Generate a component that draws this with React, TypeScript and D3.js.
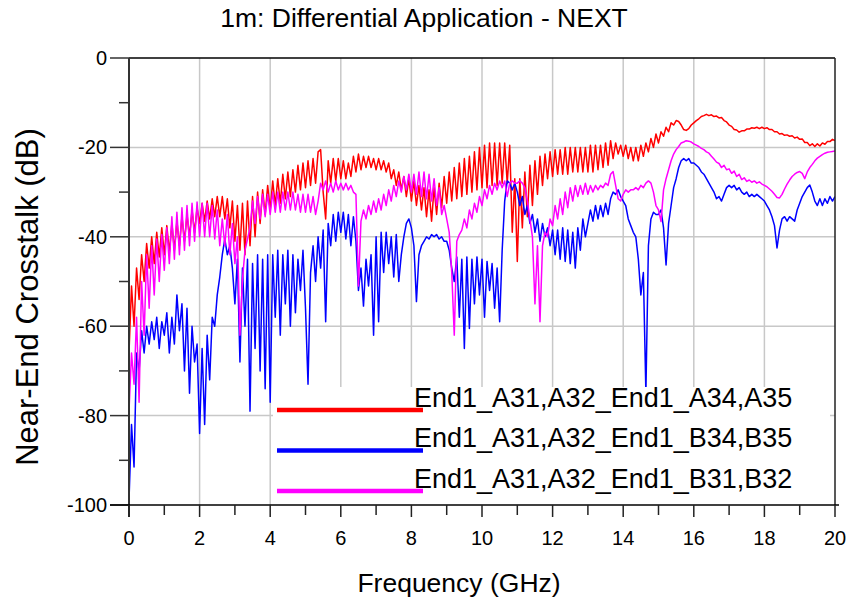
import React from 'react';
import * as d3 from 'd3';

// Frequency grid: one sample every 1/14 GHz from 0 to 20 GHz (14 samples per GHz row below)
const FREQ_STEP_GHZ = 1 / 14;

const X_TICKS = [0, 2, 4, 6, 8, 10, 12, 14, 16, 18, 20];
const X_MINOR = [1, 3, 5, 7, 9, 11, 13, 15, 17, 19];
const Y_TICKS = [0, -20, -40, -60, -80, -100];
const Y_MINOR = [-10, -30, -50, -70, -90];

const SERIES_NAMES = [
  'End1_A31,A32_End1_A34,A35',
  'End1_A31,A32_End1_B34,B35',
  'End1_A31,A32_End1_B31,B32',
];
const SERIES_COLORS = ['#ff0000', '#0000ff', '#ff00ff'];

// NEXT, End1_A31,A32 -> End1_A34,A35 (dB)
const NEXT_A34_A35 = [
  -66, -51, -60, -47, -54, -44, -50, -41.5, -47, -40, -46, -39, -44.5, -38,
  -44, -37.5, -43.5, -37, -43, -36.5, -42, -35.5, -41, -35, -40, -34, -39, -33.5,
  -37, -32.5, -36.5, -32, -36, -31.5, -35.5, -31, -35.5, -31, -36, -31.5, -38, -32,
  -41, -33, -43, -32.5, -44, -32, -42, -31, -40, -30, -37, -29.5, -35, -28.5,
  -34, -27.5, -33, -27, -32.5, -26, -31.5, -25.5, -31, -25, -30, -24, -29.5, -23.5,
  -29, -23, -28.5, -22.5, -28, -21, -20.5, -30, -36, -23, -28, -22.5, -27.5, -22.5,
  -27, -23, -27, -23.5, -26.5, -22, -25.5, -21.5, -25, -22, -24.5, -22, -24.5, -22.5,
  -25, -22.5, -25, -23, -25.5, -23.5, -27, -25, -28.5, -25.5, -29.5, -26.5, -31, -27,
  -32, -27.5, -33, -28.5, -34, -29, -35.5, -29.5, -36.5, -29, -35, -28, -33.5, -26.5,
  -32.5, -25.5, -32, -24.5, -31.5, -23.5, -31, -22.5, -30.5, -22, -30, -21, -29.5, -20,
  -29, -19.5, -29, -19, -28.5, -19, -28.5, -19, -28, -19, -28, -19.5, -39, -27,
  -45.5, -27, -38, -25.5, -35.5, -24, -33, -23, -30.5, -22, -28.5, -21.5, -27, -21,
  -26.5, -20.5, -26, -20.5, -26, -20, -26, -20, -25.5, -20, -25.5, -20, -25.5, -20,
  -25.5, -19.5, -25.5, -19.5, -25, -19.5, -24.5, -19, -24, -18.5, -22.5, -19, -21.5, -19.5,
  -22, -19.5, -22.5, -20, -23, -20, -23, -19.5, -22, -19, -21, -18, -20, -17,
  -19, -16.5, -17.5, -15.5, -16.5, -14.5, -15, -14, -14.2, -15, -16, -16.2, -15.8, -15,
  -14.5, -14, -13.6, -13.1, -12.9, -12.6, -12.9, -12.7, -13.1, -13, -13.4, -13.3, -14, -14.3,
  -15, -15.3, -16, -16.1, -16.6, -16.3, -16.3, -15.9, -15.9, -15.6, -15.7, -15.5, -15.8, -15.5,
  -15.8, -15.6, -16, -16, -16.5, -16.5, -17, -16.9, -17.3, -17.2, -17.5, -17.4, -17.9, -17.7,
  -18.2, -18.1, -18.9, -18.9, -19.6, -19.2, -19.8, -19.2, -19.7, -19, -19.3, -18.7, -18.7, -18.2,
  -18.5,
];

// NEXT, End1_A31,A32 -> End1_B34,B35 (dB)
const NEXT_B34_B35 = [
  -99, -82, -91.5, -66, -70, -61, -66, -60, -64, -59, -63, -58, -65, -59,
  -62, -57, -66, -58, -64, -53, -61, -55, -70, -56, -75, -60, -68, -64,
  -84, -65, -82, -62, -72, -58, -60, -53, -49, -44, -40.5, -44, -42, -47,
  -55, -45, -68, -47, -60, -45, -79, -46, -65, -44, -70, -45, -74, -44,
  -77, -44, -58, -43, -62, -44, -55, -43, -60, -44, -57, -45, -52, -43,
  -56, -73, -48, -42, -50, -40, -47, -38.5, -59, -37, -42, -35, -41, -34.5,
  -39, -34.5, -40.5, -35, -42, -35.5, -41, -52, -47, -55.5, -45, -51, -44, -62,
  -40, -59, -39, -48, -39, -46, -40, -49, -39.5, -50, -44, -40, -37, -36,
  -38, -42, -54.5, -44, -42, -41, -40, -40.5, -39.5, -40, -39.5, -40.5, -40, -41,
  -41, -43, -47, -50, -44.5, -58, -45, -65, -44.5, -60.5, -45, -55, -44.5, -53,
  -45, -58, -45.5, -52, -46, -56, -47, -59, -43, -32, -27.5, -28, -29.5, -28,
  -30, -33, -31, -35, -33, -37, -35, -39, -36, -41, -37, -40, -38, -42,
  -38.5, -44, -38.5, -45, -38, -45.5, -38.5, -46, -39, -47, -38, -43, -36, -40,
  -37, -34, -36.5, -33, -36, -33, -35.5, -32.5, -35, -31.5, -30, -30.5, -29.5, -31,
  -32, -33, -36, -37.5, -39, -40, -45, -53, -48, -75, -42, -36, -34.5, -35,
  -35, -34, -38, -46.3, -37, -33, -29, -27, -24.5, -23, -22.5, -23, -22.5, -23.5,
  -23.5, -24, -24.5, -25.5, -26, -27, -28, -29, -30, -31.5, -31, -32, -30.5, -29,
  -28.5, -29, -28.5, -29.5, -29, -30, -30.5, -30, -31, -30.5, -31, -30.5, -31, -31.5,
  -32, -33, -34, -35.5, -37.5, -42.5, -38.5, -36, -35.5, -36.5, -35.5, -36, -36.5, -34,
  -32.5, -31, -30, -29, -28.4, -30, -32, -33, -31.5, -33, -31.5, -32.5, -31, -32,
  -31,
];

// NEXT, End1_A31,A32 -> End1_B31,B32 (dB)
const NEXT_B31_B32 = [
  -79, -66, -73, -58, -77, -50, -62, -44, -56, -42, -53, -40.5, -50, -39.5,
  -47.5, -38, -46, -35.5, -45, -34.5, -44, -33.5, -43, -33, -42, -32.5, -41, -32.2,
  -40, -32.5, -40, -32.5, -40, -33, -40.5, -34, -42, -36, -42, -35, -44, -37,
  -46, -40, -62, -49.5, -43, -40.5, -38, -32, -37, -31, -36, -30.5, -35.5, -30.5,
  -35, -30, -34.5, -30, -34.5, -30, -34, -30, -34, -30, -34, -30.5, -34.5, -30.5,
  -34.5, -30.5, -34.5, -31, -35, -32, -28, -29.5, -27.5, -30, -28, -30, -27.5, -29.5,
  -28, -29.5, -28, -29.5, -28.5, -30, -30.5, -51, -36.5, -34, -36, -33, -35, -32,
  -34.5, -31.5, -34, -30.5, -33, -29.5, -32, -28.5, -31, -27.5, -30, -26.5, -29.5, -26,
  -30, -26, -30.5, -25.5, -31, -25.5, -31.5, -26, -32, -27, -33, -29, -35, -33,
  -36, -39, -48, -62, -41, -39.5, -38.5, -36, -38, -34, -36, -32.5, -34.5, -31,
  -33, -29.5, -31.5, -28.5, -30.5, -28, -29.5, -27.5, -29, -27.5, -31, -28, -27.5, -28,
  -28, -27.5, -28, -29, -32, -36, -40, -55, -42, -59, -42, -39, -40, -36,
  -37.5, -33, -36, -31.5, -35, -30, -33.5, -29, -32, -28.5, -31, -28.5, -30.5, -28,
  -30.5, -28.5, -30, -28.5, -29.5, -28.5, -29, -28, -28.5, -26, -25.4, -28.5, -31.5, -32,
  -30.5, -29.5, -30, -29.5, -29.5, -29, -29.5, -28.5, -29, -28, -27.5, -28, -30, -33,
  -34, -36.6, -29.5, -27, -25, -23, -21.5, -20.5, -19.8, -19, -18.8, -18.5, -18.6, -18.8,
  -19.2, -19.5, -19.8, -20.2, -20.5, -21, -21.3, -22, -22.6, -23.3, -23.6, -24.5, -24, -25,
  -24.8, -25.8, -25.3, -26.5, -26, -27.2, -26.8, -27.6, -27.3, -27.8, -27.5, -28, -27.7, -28.2,
  -28.5, -28.8, -29.3, -29.8, -30.5, -31.2, -31.3, -30.5, -29.3, -28.2, -27.3, -26.5, -26, -25.6,
  -25.4, -25.8, -27, -25.5, -24.5, -23.8, -23, -22.4, -22, -21.6, -21.3, -21.1, -21, -20.9,
  -20.8,
];

const SERIES = [NEXT_A34_A35, NEXT_B34_B35, NEXT_B31_B32];

const FONT = '"Liberation Sans", Arial, Helvetica, sans-serif';

export default function App() {
  const width = 851;
  const height = 601;
  const left = 129;
  const right = 835;
  const top = 58;
  const bottom = 505;

  const x = d3.scaleLinear().domain([0, 20]).range([left, right]);
  const y = d3.scaleLinear().domain([-100, 0]).range([bottom, top]);

  const line = d3
    .line<number>()
    .x((_, i) => x(i * FREQ_STEP_GHZ))
    .y((d) => y(d));

  const gridColor = '#c8c8c8';
  const legendRows = [410, 450.5, 491];

  return (
    <svg
      width={width}
      height={height}
      viewBox={`0 0 ${width} ${height}`}
      style={{ position: 'absolute', left: 0, top: 0, background: '#fff' }}
      fontFamily={FONT}
    >
      <defs>
        <clipPath id="plot-area">
          <rect x={left} y={top} width={right - left} height={bottom - top} />
        </clipPath>
      </defs>
      <rect x={0} y={0} width={width} height={height} fill="#fff" />

      {/* title */}
      <text x={424} y={27} textAnchor="middle" fontSize={26.5} fill="#000">
        1m: Differential Application - NEXT
      </text>

      {/* grid */}
      {X_TICKS.filter((t) => t > 0 && t < 20).map((t) => (
        <line key={`gx${t}`} x1={x(t)} x2={x(t)} y1={top} y2={bottom} stroke={gridColor} strokeWidth={1.5} />
      ))}
      {Y_TICKS.filter((t) => t < 0 && t > -100).map((t) => (
        <line key={`gy${t}`} x1={left} x2={right} y1={y(t)} y2={y(t)} stroke={gridColor} strokeWidth={1.5} />
      ))}

      {/* series */}
      <g clipPath="url(#plot-area)">
        {SERIES.map((s, k) => (
          <path
            key={SERIES_NAMES[k]}
            d={line(s) ?? ''}
            fill="none"
            stroke={SERIES_COLORS[k]}
            strokeWidth={1.5}
            strokeLinejoin="round"
          />
        ))}
      </g>

      {/* legend */}
      <rect x={273} y={387} width={557} height={bottom - 387} fill="#fff" />
      {SERIES_NAMES.map((name, k) => (
        <g key={`lg${k}`}>
          <line x1={277} x2={423} y1={legendRows[k]} y2={legendRows[k]} stroke={SERIES_COLORS[k]} strokeWidth={4.5} />
          <text x={414} y={legendRows[k] - 3.5} fontSize={27} fill="#000">
            {name}
          </text>
        </g>
      ))}

      {/* frame */}
      <line x1={left} x2={right} y1={top} y2={top} stroke="#000" strokeWidth={1.5} />
      <line x1={right} x2={right} y1={top} y2={bottom} stroke="#222" strokeWidth={1.5} />

      {/* y axis */}
      <line x1={left} x2={left} y1={top} y2={bottom + 12} stroke="#333" strokeWidth={2} />
      {Y_TICKS.map((t) => (
        <g key={`yt${t}`}>
          <line x1={110} x2={left} y1={y(t)} y2={y(t)} stroke="#333" strokeWidth={1.5} />
          <text x={107} y={y(t) + 7} textAnchor="end" fontSize={20} fill="#000">
            {t}
          </text>
        </g>
      ))}
      {Y_MINOR.map((t) => (
        <line key={`ym${t}`} x1={119} x2={left} y1={y(t)} y2={y(t)} stroke="#333" strokeWidth={1.5} />
      ))}

      {/* x axis */}
      <line x1={110} x2={right + 4} y1={bottom} y2={bottom} stroke="#000" strokeWidth={1.5} />
      {X_TICKS.map((t) => (
        <g key={`xt${t}`}>
          <line x1={x(t)} x2={x(t)} y1={bottom} y2={bottom + 12} stroke="#222" strokeWidth={1.5} />
          <text x={x(t)} y={545} textAnchor="middle" fontSize={20} fill="#000">
            {t}
          </text>
        </g>
      ))}
      {X_MINOR.map((t) => (
        <line key={`xm${t}`} x1={x(t)} x2={x(t)} y1={bottom} y2={bottom + 10} stroke="#222" strokeWidth={1.5} />
      ))}

      {/* axis titles */}
      <text x={459} y={592} textAnchor="middle" fontSize={26.5} fill="#000">
        Frequency (GHz)
      </text>
      <text
        transform={`translate(38, 297) rotate(-90)`}
        textAnchor="middle"
        fontSize={31}
        fill="#000"
      >
        Near-End Crosstalk (dB)
      </text>
    </svg>
  );
}
